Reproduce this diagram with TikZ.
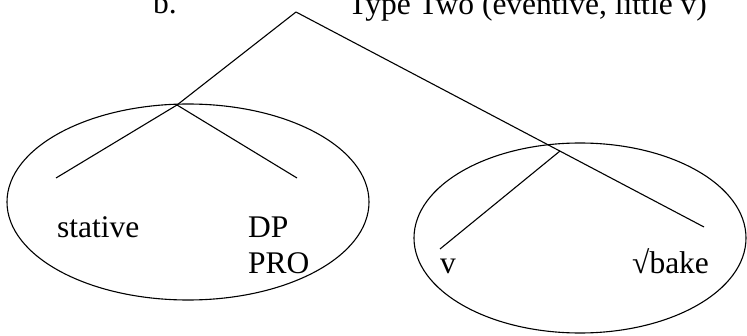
\documentclass[tikz,border=0pt]{standalone}
\usepackage{fontspec}
\setmainfont{Liberation Serif}
\begin{document}
\begin{tikzpicture}[x=1pt,y=1pt,
  branch/.style={line width=1.1pt, black},
  bubble/.style={line width=1.1pt, black},
  lbl/.style={anchor=base west, inner sep=0pt, font=\fontsize{31.5}{37}\selectfont}]
\useasboundingbox (0,0) rectangle (747,335);
% tree skeleton
\coordinate (top) at (296,323);
\coordinate (sL) at (177,230);
\coordinate (lA) at (56,157);
\coordinate (lB) at (297,157);
\coordinate (sR) at (560,184);
\coordinate (rEnd) at (704,108);
\coordinate (rV) at (440,86);
% bubbles round the two subtrees
\draw[bubble] (188,133) ellipse [x radius=181, y radius=98];
\draw[bubble] (580,97) ellipse [x radius=166, y radius=95];
% branches
\draw[branch] (top) -- (sL);
\draw[branch] (top) -- (rEnd);
\draw[branch] (sL) -- (lA);
\draw[branch] (sL) -- (lB);
\draw[branch] (sR) -- (rV);
% labels
\node[lbl] (hdb) at (153,321) {b.};
\node[lbl] (hdt) at (348,320) {Type Two (eventive, little v)};
\node[lbl] (stat) at (57,98) {stative};
\node[lbl] (dp) at (248,98) {DP};
\node[lbl] (pro) at (248,62) {PRO};
\node[lbl] (lv) at (440,62) {v};
\node[lbl] (bake) at (632,62) {√bake};
\end{tikzpicture}
\end{document}
